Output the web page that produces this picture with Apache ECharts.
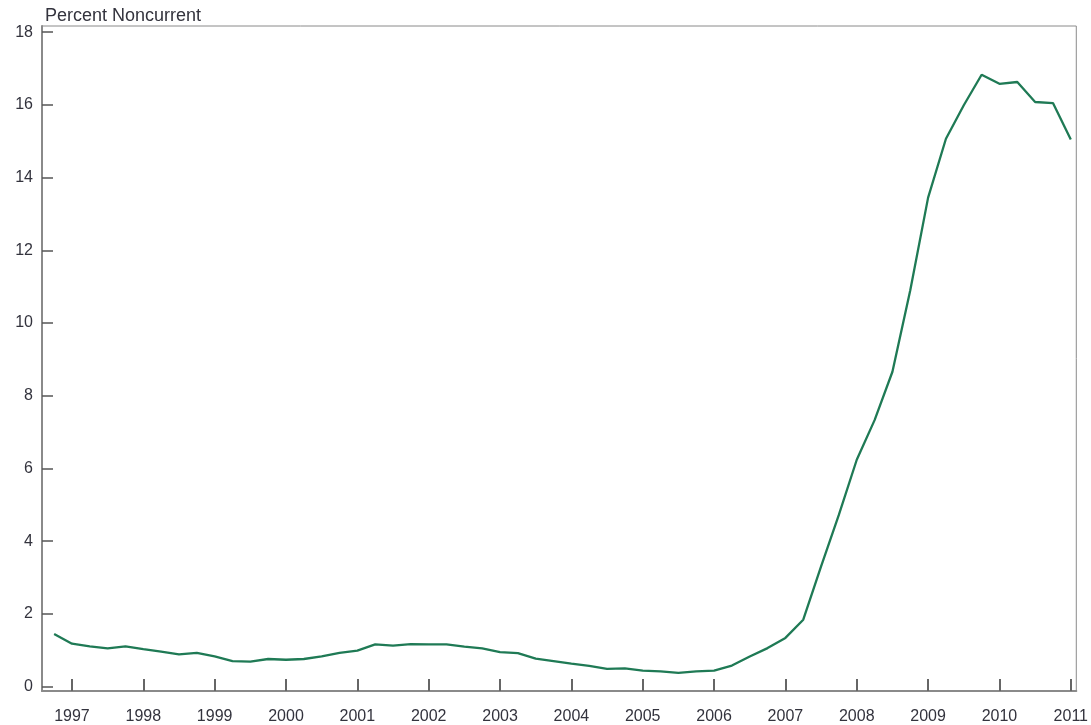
<!DOCTYPE html>
<html>
<head>
<meta charset="utf-8">
<script src="https://cdn.jsdelivr.net/npm/echarts@6/dist/echarts.min.js"></script>
<style>
html,body{margin:0;padding:0;background:#fff;}
#chart{width:1091px;height:725px;}
</style>
</head>
<body>
<div id="chart"></div>
<script>
// Quarterly dates (decimal years) and percent noncurrent values
const quarters = [
  1996.75,
  1997.00, 1997.25, 1997.50, 1997.75,
  1998.00, 1998.25, 1998.50, 1998.75,
  1999.00, 1999.25, 1999.50, 1999.75,
  2000.00, 2000.25, 2000.50, 2000.75,
  2001.00, 2001.25, 2001.50, 2001.75,
  2002.00, 2002.25, 2002.50, 2002.75,
  2003.00, 2003.25, 2003.50, 2003.75,
  2004.00, 2004.25, 2004.50, 2004.75,
  2005.00, 2005.25, 2005.50, 2005.75,
  2006.00, 2006.25, 2006.50, 2006.75,
  2007.00, 2007.25, 2007.50, 2007.75,
  2008.00, 2008.25, 2008.50, 2008.75,
  2009.00, 2009.25, 2009.50, 2009.75,
  2010.00, 2010.25, 2010.50, 2010.75,
  2011.00
];
const percentNoncurrent = [
  1.45,
  1.18, 1.11, 1.05, 1.11,
  1.03, 0.96, 0.89, 0.93,
  0.83, 0.70, 0.69, 0.76,
  0.74, 0.76, 0.83, 0.93,
  0.99, 1.16, 1.13, 1.17,
  1.16, 1.16, 1.10, 1.05,
  0.95, 0.92, 0.77, 0.70,
  0.63, 0.57, 0.49, 0.50,
  0.44, 0.42, 0.38, 0.42,
  0.44, 0.58, 0.83, 1.06,
  1.34, 1.84, 3.31, 4.73,
  6.24, 7.33, 8.66, 10.90,
  13.45, 15.07, 15.99, 16.83,
  16.58, 16.63, 16.08, 16.05,
  15.05
];
const yearTicks = [1997,1998,1999,2000,2001,2002,2003,2004,2005,2006,2007,2008,2009,2010,2011];
const yTicks = [0,2,4,6,8,10,12,14,16,18];
const titleText = 'Percent Noncurrent';

const chart = echarts.init(document.getElementById('chart'));
const axisGray = '#8a8a8a';
const textColor = '#33333d';
const font = 'Liberation Sans, Arial, sans-serif';
chart.setOption({
  animation: false,
  backgroundColor: '#fff',
  title: {
    text: titleText,
    left: 40, top: 2,
    textStyle: {fontSize: 18, fontWeight: 'normal', color: textColor, fontFamily: font}
  },
  grid: {
    left: 42, right: 14.5, top: 26, bottom: 33,
    show: true, borderColor: axisGray, borderWidth: 1, backgroundColor: '#fff'
  },
  xAxis: {
    type: 'value',
    min: 1996.58, max: 2011.077,
    splitLine: {show: false},
    axisLine: {show: true, onZero: false, lineStyle: {color: axisGray, width: 2}},
    axisTick: {show: true, inside: true, length: 12, customValues: yearTicks, lineStyle: {color: '#666', width: 2}},
    axisLabel: {
      customValues: yearTicks, margin: 18, fontSize: 16, color: textColor, fontFamily: font,
      formatter: v => String(Math.round(v))
    }
  },
  yAxis: {
    type: 'value',
    min: -0.12, max: 18.17,
    splitLine: {show: false},
    axisLine: {show: true, onZero: false, lineStyle: {color: axisGray, width: 2}},
    axisTick: {show: true, inside: true, length: 11, customValues: yTicks, lineStyle: {color: '#555', width: 1.5}},
    axisLabel: {
      customValues: yTicks, margin: 9, fontSize: 16, color: textColor, fontFamily: font,
      formatter: v => String(Math.round(v))
    }
  },
  series: [{
    type: 'line',
    data: quarters.map((q, i) => [q, percentNoncurrent[i]]),
    showSymbol: false,
    lineStyle: {color: '#1f7a55', width: 2.3},
    itemStyle: {color: '#1f7a55'}
  }]
});
</script>
</body>
</html>
